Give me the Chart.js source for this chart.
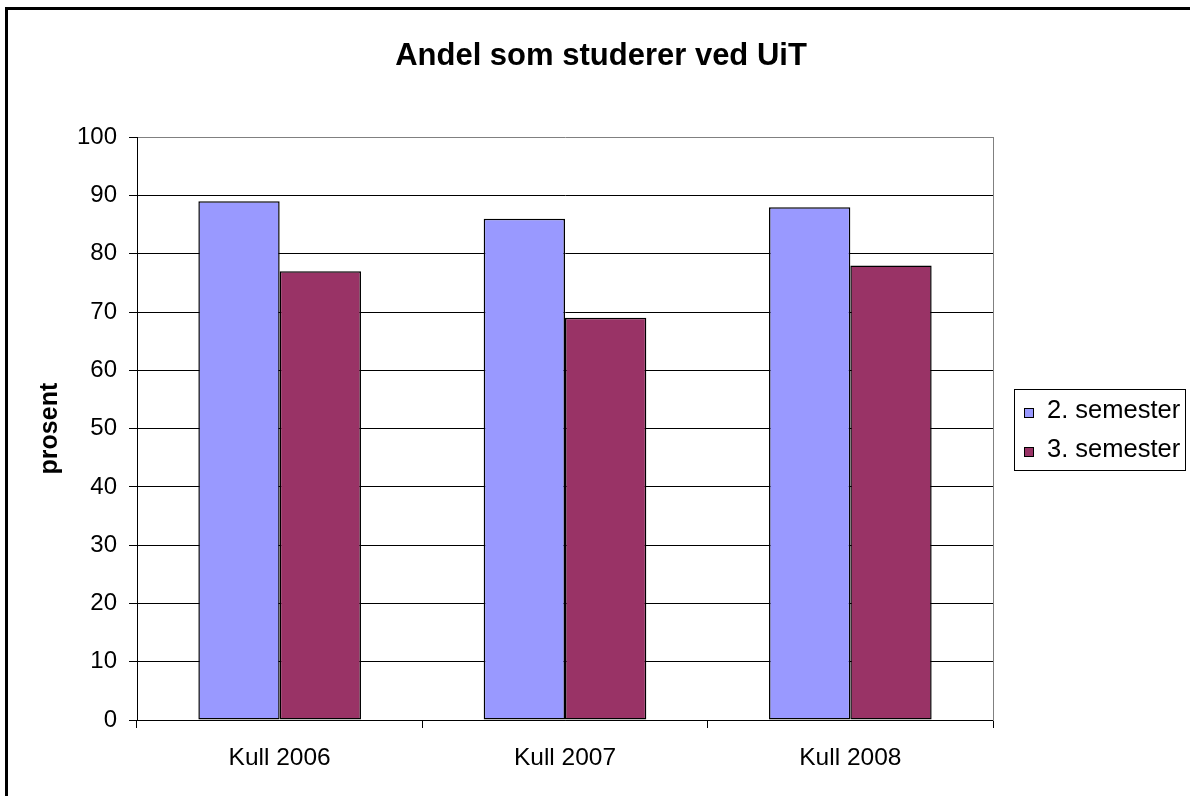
<!DOCTYPE html>
<html>
<head>
<meta charset="utf-8">
<script src="https://cdn.jsdelivr.net/npm/chart.js@4/dist/chart.umd.min.js"></script>
<style>
  html, body { margin: 0; padding: 0; background: #fff; }
  #wrap { width: 1190px; height: 796px; position: relative; }
</style>
</head>
<body>
<div id="wrap"><canvas id="chart"></canvas></div>
<script>
const categories = ['Kull 2006', 'Kull 2007', 'Kull 2008'];
const seriesLabels = ['2. semester', '3. semester'];
const semester2 = [89, 86, 88];
const semester3 = [77, 69, 78];
const yTicks = [0, 10, 20, 30, 40, 50, 60, 70, 80, 90, 100];

const FONT = 'Liberation Sans, Arial, sans-serif';

// outer frame (left + top edge only, the rest is cropped in the original)
const framePlugin = {
  id: 'frame',
  afterDraw(chart) {
    const ctx = chart.ctx;
    ctx.save();
    ctx.fillStyle = '#000';
    ctx.fillRect(5, 7, 3, chart.height - 7);
    ctx.fillRect(5, 7, chart.width - 5, 3);
    ctx.restore();
  }
};

// boxed legend to the right of the plot, like the Excel original
const boxLegend = {
  id: 'boxLegend',
  afterDraw(chart) {
    const ctx = chart.ctx;
    const area = chart.chartArea;
    const x0 = area.right + 21;
    const w = 171, h = 81, pitch = 39;
    const y0 = Math.round((area.top + area.bottom) / 2 - h / 2 + 0.5);
    ctx.save();
    ctx.strokeStyle = '#000';
    ctx.lineWidth = 1;
    ctx.strokeRect(x0 + 0.5, y0 + 0.5, w, h);
    ctx.font = '25.5px ' + FONT;
    ctx.textBaseline = 'alphabetic';
    ctx.textAlign = 'left';
    chart.data.datasets.forEach((ds, i) => {
      const sy = y0 + 19 + i * pitch;
      ctx.fillStyle = ds.backgroundColor;
      ctx.fillRect(x0 + 10, sy, 10, 10);
      ctx.strokeRect(x0 + 10.5, sy + 0.5, 9, 9);
      ctx.fillStyle = '#000';
      ctx.fillText(ds.label, x0 + 33, sy + 10);
    });
    ctx.restore();
  }
};

new Chart(document.getElementById('chart'), {
  type: 'bar',
  data: {
    labels: categories,
    datasets: [
      {
        label: seriesLabels[0],
        data: semester2,
        backgroundColor: '#9999FF',
        borderColor: '#000',
        borderWidth: 1.5,
        borderSkipped: false,
      },
      {
        label: seriesLabels[1],
        data: semester3,
        backgroundColor: '#993366',
        borderColor: '#000',
        borderWidth: 1.5,
        borderSkipped: false,
      },
    ],
  },
  options: {
    responsive: true,
    maintainAspectRatio: false,
    animation: false,
    layout: { padding: { left: 12, right: 0, top: 0, bottom: 0 } },
    datasets: {
      bar: { categoryPercentage: 0.57, barPercentage: 1.0 },
    },
    plugins: {
      legend: { display: false },
      tooltip: { enabled: false },
      title: {
        display: true,
        text: 'Andel som studerer ved UiT',
        color: '#000',
        font: { family: FONT, size: 31, weight: 'bold' },
        padding: { top: 38, bottom: 62 },
      },
    },
    scales: {
      x: {
        grid: {
          display: true,
          drawOnChartArea: false,
          drawTicks: true,
          tickLength: 8,
          color: '#000',
          offset: true,
        },
        border: { display: true, color: '#000', width: 1 },
        ticks: {
          color: '#000',
          padding: 16,
          font: { family: FONT, size: 24.5 },
        },
        afterFit(scale) { scale.height = 76; },
      },
      y: {
        min: 0,
        max: 100,
        afterBuildTicks(scale) {
          scale.ticks = yTicks.map(v => ({ value: v }));
        },
        grid: {
          color: c => (c.tick && c.tick.value === 100 ? '#808080' : '#000'),
          tickColor: '#000',
          tickLength: 8,
          lineWidth: 1,
        },
        border: { display: true, color: '#000', width: 1 },
        ticks: {
          color: '#000',
          padding: 12,
          font: { family: FONT, size: 24 },
        },
        title: {
          display: true,
          text: 'prosent',
          color: '#000',
          font: { family: FONT, size: 25, weight: 'bold' },
          padding: { top: 23, bottom: 0 },
        },
        afterFit(scale) { scale.width = 125; },
      },
      // empty right-hand axis: only reserves room for the legend and draws the grey plot edge
      side: {
        type: 'linear',
        position: 'right',
        grid: { display: false },
        ticks: { display: false },
        border: { display: true, color: '#808080', width: 1 },
        afterFit(scale) { scale.width = 197; },
      },
    },
  },
  plugins: [boxLegend, framePlugin],
});
</script>
</body>
</html>
